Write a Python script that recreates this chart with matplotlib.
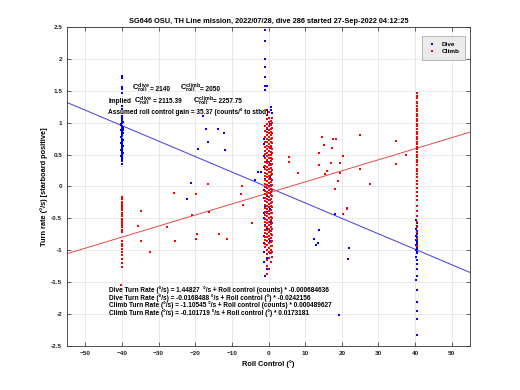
import matplotlib
matplotlib.use("Agg")
import matplotlib.pyplot as plt
import numpy as np

# ---------------- data ----------------
title = "SG646 OSU, TH Line mission, 2022/07/28, dive 286 started 27-Sep-2022 04:12:25"

# Dive (blue) points
dive_col_m40_y = [1.73, 1.70, 1.56, 1.53, 1.47, 1.26, 1.21, 1.10, 1.07, 1.05, 1.02, 1.00, 0.98,
                  0.95, 0.93, 0.91, 0.89, 0.86, 0.84, 0.82, 0.79, 0.77, 0.75, 0.73, 0.71, 0.69,
                  0.67, 0.65, 0.62, 0.60, 0.58, 0.56, 0.53, 0.51, 0.49, 0.46, 0.43, 0.40, 0.35,
                  1.01, 0.97, 0.92, 0.88, 0.83, 0.78, 0.72, 0.68, 0.63, 0.57, 0.52, 0.47]
dive_col_m40_x = [-40.1, -40.0, -39.9, -40.1, -40.0, -40.0, -39.9, -40.1, -40.0, -39.9, -40.1,
                  -40.0, -40.2, -39.9, -40.0, -40.1, -39.8, -40.0, -40.1, -39.9, -40.0, -40.2,
                  -40.0, -39.9, -40.1, -40.0, -39.9, -40.1, -40.0, -40.0, -39.9, -40.1, -40.0,
                  -40.1, -39.9, -40.0, -40.0, -40.1, -40.0,
                  -39.7, -40.3, -39.7, -40.3, -39.7, -40.3, -39.7, -40.3, -39.7, -40.3, -39.7, -40.3]

dive_col_0_x = [-1.0, -1.0, -1.0, -1.0, -1.0, -0.9, -0.3, -1.0, 0.7, 0.7, 0.8,
                -1.2, -1.2, -1.1, -1.2, -1.2, -1.1, -1.2, -1.2, -1.1, -1.2, -1.2, -1.1, -1.2,
                -1.2, -1.1, -1.2, -1.2, -1.1,
                0.5, 0.6, 0.5, 0.4, 0.5, 0.6, 0.5, 0.4, 0.5, 0.6, 0.5, 0.4, 0.5,
                -0.4, -0.5, -0.3, -0.4, -0.5, -0.3, -0.4, -0.5]
dive_col_0_y = [2.45, 2.28, 2.00, 1.87, 1.72, 1.58, 1.58, 1.51, 1.25, 1.20, 1.15,
                0.74, 0.66, 0.56, 0.48, 0.30, 0.12, -0.05, -0.18, -0.30, -0.42, -0.50, -0.60,
                -0.78, -0.88, -0.95, -1.02, -1.19, -1.41,
                0.98, 0.85, 0.60, 0.35, 0.15, 0.02, -0.10, -0.22, -0.35, -0.55, -0.70, -0.85,
                -1.05,
                0.90, 0.40, 0.20, -0.15, -0.40, -0.65, -1.12, -1.30]

dive_col_40_y = [-0.47, -0.52, -0.58, -0.62, -0.66, -0.70, -0.74, -0.77, -0.80, -0.82, -0.84,
                 -0.86, -0.88, -0.90, -0.92, -0.94, -0.96, -0.98, -1.00, -1.02, -1.05, -1.10,
                 -1.16, -1.22, -1.29, -1.40, -1.47, -1.63, -1.81, -1.95, -2.08, -2.33]
dive_col_40_x = [40.4, 40.3, 40.4, 40.5, 40.3, 40.4, 40.4, 40.3, 40.5, 40.4, 40.3, 40.4, 40.5,
                 40.4, 40.3, 40.4, 40.4, 40.5, 40.3, 40.4, 40.4, 40.3, 40.4, 40.5, 40.4, 40.4,
                 40.3, 40.4, 40.4, 40.4, 40.4, 40.4]

dive_scatter_x = [-17.9, -17.0, -13.8, -12.3, -16.6, -19.3, -11.9, -21.2, -22.2, -3.0, -2.1,
                  -3.8, 13.8, 12.4, 13.5, 13.0, 18.0, 21.9, 21.7, 19.1]
dive_scatter_y = [1.105, 0.90, 0.90, 0.84, 0.70, 0.58, 0.57, 0.05, -0.19, 0.23, 0.22, 0.10,
                  -0.69, -0.83, -0.88, -0.92, -0.43, -0.97, -1.14, -2.02]

# Climb (red) points
climb_col_m40_y = [-0.16, -0.20, -0.25, -0.28, -0.31, -0.34, -0.37, -0.41, -0.44, -0.47, -0.51,
                   -0.54, -0.57, -0.61, -0.64, -0.68, -0.72, -0.86, -0.90, -0.94, -0.98, -1.02,
                   -1.08, -1.14, -1.20, -1.26, -1.55]
climb_col_m40_x = [-40.1, -40.0, -40.1, -39.9, -40.0, -40.1, -40.0, -39.9, -40.1, -40.0, -40.1,
                   -39.9, -40.0, -40.1, -40.0, -39.9, -40.0, -40.1, -40.0, -40.1, -39.9, -40.0,
                   -40.1, -40.0, -40.0, -40.1, -40.2]

climb_col_0a_y = [1.20, 1.12, 1.05, 0.98, 0.92, 0.86, 0.81, 0.75, 0.70, 0.64, 0.58, 0.53, 0.47,
                  0.42, 0.36, 0.31, 0.25, 0.20, 0.14, 0.09, 0.03, -0.02, -0.08, -0.13, -0.19,
                  -0.24, -0.30, -0.35, -0.41, -0.46, -0.52, -0.58, -0.63, -0.69, -0.74, -0.80,
                  -0.86, -0.92, -0.99, -1.06, -1.15, -1.25, -1.37]
climb_col_0b_y = [1.16, 1.08, 1.01, 0.95, 0.89, 0.83, 0.78, 0.72, 0.67, 0.61, 0.55, 0.50, 0.44,
                  0.39, 0.33, 0.28, 0.22, 0.17, 0.11, 0.06, 0.00, -0.05, -0.11, -0.16, -0.22,
                  -0.27, -0.33, -0.38, -0.44, -0.49, -0.55, -0.61, -0.66, -0.72, -0.77, -0.83,
                  -0.89, -0.96, -1.03, -1.12, -1.30]
climb_col_0c_y = [1.02, 0.96, 0.90, 0.85, 0.80, 0.74, 0.69, 0.64, 0.60, 0.54, 0.49, 0.44, 0.40,
                  0.34, 0.29, 0.23, 0.18, 0.12, 0.07, 0.01, -0.04, -0.09, -0.14, -0.20, -0.26,
                  -0.31, -0.37, -0.42, -0.48, -0.53, -0.59, -0.64, -0.70, -0.75, -0.81, -0.87,
                  -0.93, -0.99, -1.05, -1.18]
climb_col_0d_y = [0.94, 0.87, 0.78, 0.70, 0.62, 0.56, 0.51, 0.45, 0.38, 0.32, 0.27, 0.21, 0.16,
                  0.10, 0.04, -0.01, -0.07, -0.12, -0.18, -0.23, -0.29, -0.34, -0.40, -0.45,
                  -0.51, -0.56, -0.62, -0.68, -0.73, -0.79, -0.84, -0.90, -0.95]
climb_col_0e_y = [1.08, 0.99, 0.91, 0.83, 0.76, 0.68, 0.59, 0.52, 0.43, 0.35, 0.26, 0.19, 0.10,
                  0.02, -0.06, -0.15, -0.24, -0.32, -0.41, -0.50, -0.58, -0.67, -0.76, -0.85,
                  -0.94, -1.02, -1.10]
climb_col_0a_x = -0.45
climb_col_0b_x = 0.05
climb_col_0c_x = 0.55
climb_col_0d_x = -0.95
climb_col_0e_x = 1.0

climb_col_40_y = [1.47, 1.42, 1.38, 1.33, 1.30, 1.26, 1.22, 1.18, 1.14, 1.10, 1.06, 1.02, 0.98,
                  0.94, 0.90, 0.86, 0.82, 0.78, 0.74, 0.70, 0.66, 0.62, 0.58, 0.54, 0.50, 0.46,
                  0.42, 0.38, 0.33, 0.28, 0.24, 0.19, 0.14, 0.09, 0.04, -0.02, -0.08, -0.15,
                  -0.22, -0.30, -0.38, -0.46, -0.55, -0.63, -0.72, -0.82, -0.94]
climb_col_40_x = 40.4

climb_scatter_x = [-34.8, -35.6, -34.8, -32.4, -27.7, -25.6, -20.8, -16.3, -19.6, -19.9, -13.4,
                   -11.4, -25.7, -16.4, -19.8, -7.4, -7.0, -7.3, -4.6, 5.6, 5.6, 8.0, 14.6, 15.2,
                   13.7, 13.8, 16.0, 17.6, 18.5, 17.3, 20.4, 17.0, 19.4, 19.5, 15.3, 18.9, 18.0,
                   24.9, 24.9, 27.7, 34.7, 34.7, 37.6, 21.5, 20.2, 21.3]
climb_scatter_y = [-0.39, -0.62, -0.86, -1.03, -0.64, -0.85, -0.45, -0.40, -0.74, -0.83, -0.74,
                   -0.82, -0.11, 0.04, -0.12, -0.12, -0.29, 0.00, -0.58, 0.46, 0.38, 0.21, 0.78,
                   0.65, 0.53, 0.34, 0.24, 0.74, 0.74, 0.60, 0.48, 0.37, 0.36, 0.21, 0.20, 0.08,
                   -0.04, 0.80, 0.27, 0.04, 0.71, 0.35, 0.49, -0.34, -0.43, -0.35]

# Fit lines (deg): turn rate = intercept + slope * roll
dive_intercept, dive_slope = -0.0168488, -0.0242156
climb_intercept, climb_slope = -0.101719, 0.0173181
line_x = [-55, 55]

fit_texts = [
    "Dive Turn Rate (°/s) = 1.44827  °/s + Roll control (counts) * -0.000684636",
    "Dive Turn Rate (°/s) = -0.0168488 °/s + Roll control (°) * -0.0242156",
    "Climb Turn Rate (°/s) = -1.10545 °/s + Roll control (counts) * 0.000489627",
    "Climb Turn Rate (°/s) = -0.101719 °/s + Roll control (°) * 0.0173181",
]

xticks = [-50, -40, -30, -20, -10, 0, 10, 20, 30, 40, 50]
yticks = [-2.5, -2, -1.5, -1, -0.5, 0, 0.5, 1, 1.5, 2, 2.5]
yticklabels = ["-2.5", "-2", "-1.5", "-1", "-0.5", "0", "0.5", "1", "1.5", "2", "2.5"]

# ---------------- plot ----------------
plt.rcParams['font.family'] = ['Liberation Sans', 'DejaVu Sans']
plt.rcParams['mathtext.fontset'] = 'custom'
plt.rcParams['mathtext.rm'] = 'Liberation Sans:bold'
plt.rcParams['mathtext.it'] = 'Liberation Sans:bold'
plt.rcParams['mathtext.bf'] = 'Liberation Sans:bold'

fig = plt.figure(figsize=(5.2, 3.9), dpi=100)
ax = fig.add_axes([0.129, 0.113, 0.775, 0.818])

blue = '#0000ff'
red = '#ff0000'
ms = 1.8

dx = list(dive_col_m40_x) + list(dive_col_0_x) + list(dive_col_40_x) + list(dive_scatter_x)
dy = list(dive_col_m40_y) + list(dive_col_0_y) + list(dive_col_40_y) + list(dive_scatter_y)
cx = (list(climb_col_m40_x) + [climb_col_0a_x] * len(climb_col_0a_y)
      + [climb_col_0b_x] * len(climb_col_0b_y) + [climb_col_0c_x] * len(climb_col_0c_y)
      + [climb_col_0d_x] * len(climb_col_0d_y) + [climb_col_0e_x] * len(climb_col_0e_y)
      + [climb_col_40_x] * len(climb_col_40_y) + list(climb_scatter_x))
cy = (list(climb_col_m40_y) + list(climb_col_0a_y) + list(climb_col_0b_y) + list(climb_col_0c_y)
      + list(climb_col_0d_y) + list(climb_col_0e_y) + list(climb_col_40_y) + list(climb_scatter_y))

ax.plot(dx, dy, linestyle='none', marker='s', markersize=ms, color=blue,
        markeredgewidth=0, label='Dive', zorder=3)
ax.plot(cx, cy, linestyle='none', marker='s', markersize=ms, color=red,
        markeredgewidth=0, label='Climb', zorder=3)

lx = np.array(line_x, dtype=float)
ax.plot(lx, dive_intercept + dive_slope * lx, color='#3a3ae6', lw=0.7, zorder=2)
ax.plot(lx, climb_intercept + climb_slope * lx, color='#e84a4a', lw=0.7, zorder=2)

ax.set_xlim(-55, 55)
ax.set_ylim(-2.5, 2.5)
ax.set_xticks(xticks)
ax.set_yticks(yticks)
ax.set_yticklabels(yticklabels)
ax.grid(True, color='#e0e0e0', lw=0.5)
ax.set_axisbelow(True)
ax.tick_params(direction='in', length=3, width=0.5, labelsize=4.6, top=True, right=True,
               pad=3.5, colors='#222222')
for lab in ax.get_xticklabels() + ax.get_yticklabels():
    lab.set_fontweight('bold')
for sp in ax.spines.values():
    sp.set_linewidth(0.6)
    sp.set_color('#333333')

ax.set_title(title, fontsize=5.3, fontweight='bold', pad=3)
ax.set_xlabel("Roll Control (°)", fontsize=5.3, fontweight='bold', labelpad=3)
ax.set_ylabel("Turn rate (°/s) [starboard positive]", fontsize=5.3, fontweight='bold', labelpad=2)

tkw = dict(fontsize=4.7, fontweight='bold', va='center', ha='left')
mkw = dict(fontsize=5.4, va='center', ha='left')
# row 1
ax.text(-37.4, 1.53, r"$C_{roll}^{dive}$", **mkw)
ax.text(-32.4, 1.525, "= 2140", **tkw)
ax.text(-24.2, 1.53, r"$C_{roll}^{climb}$", **mkw)
ax.text(-18.8, 1.525, "= 2050", **tkw)
# row 2
ax.text(-43.7, 1.335, "Implied", **tkw)
ax.text(-36.6, 1.34, r"$C_{roll}^{dive}$", **mkw)
ax.text(-31.6, 1.335, "= 2115.39", **tkw)
ax.text(-20.6, 1.34, r"$C_{roll}^{climb}$", **mkw)
ax.text(-15.2, 1.335, "= 2257.75", **tkw)
# row 3
ax.text(-43.7, 1.16, "Assumed roll control gain = 35.37 (counts/° to stbd)", **tkw)

for i, t in enumerate(fit_texts):
    ax.text(-43.6, -1.63 - 0.117 * i, t, **tkw)

leg = ax.legend(loc='upper right', fontsize=4.6, frameon=True, fancybox=False,
                facecolor='#e6e6e6', edgecolor='#888888', markerscale=1.0,
                handlelength=1.5, borderpad=0.8, labelspacing=0.3,
                bbox_to_anchor=(0.995, 0.98))
leg.get_frame().set_linewidth(0.5)
for t in leg.get_texts():
    t.set_fontweight('bold')

fig.savefig('out.png', dpi=100)
